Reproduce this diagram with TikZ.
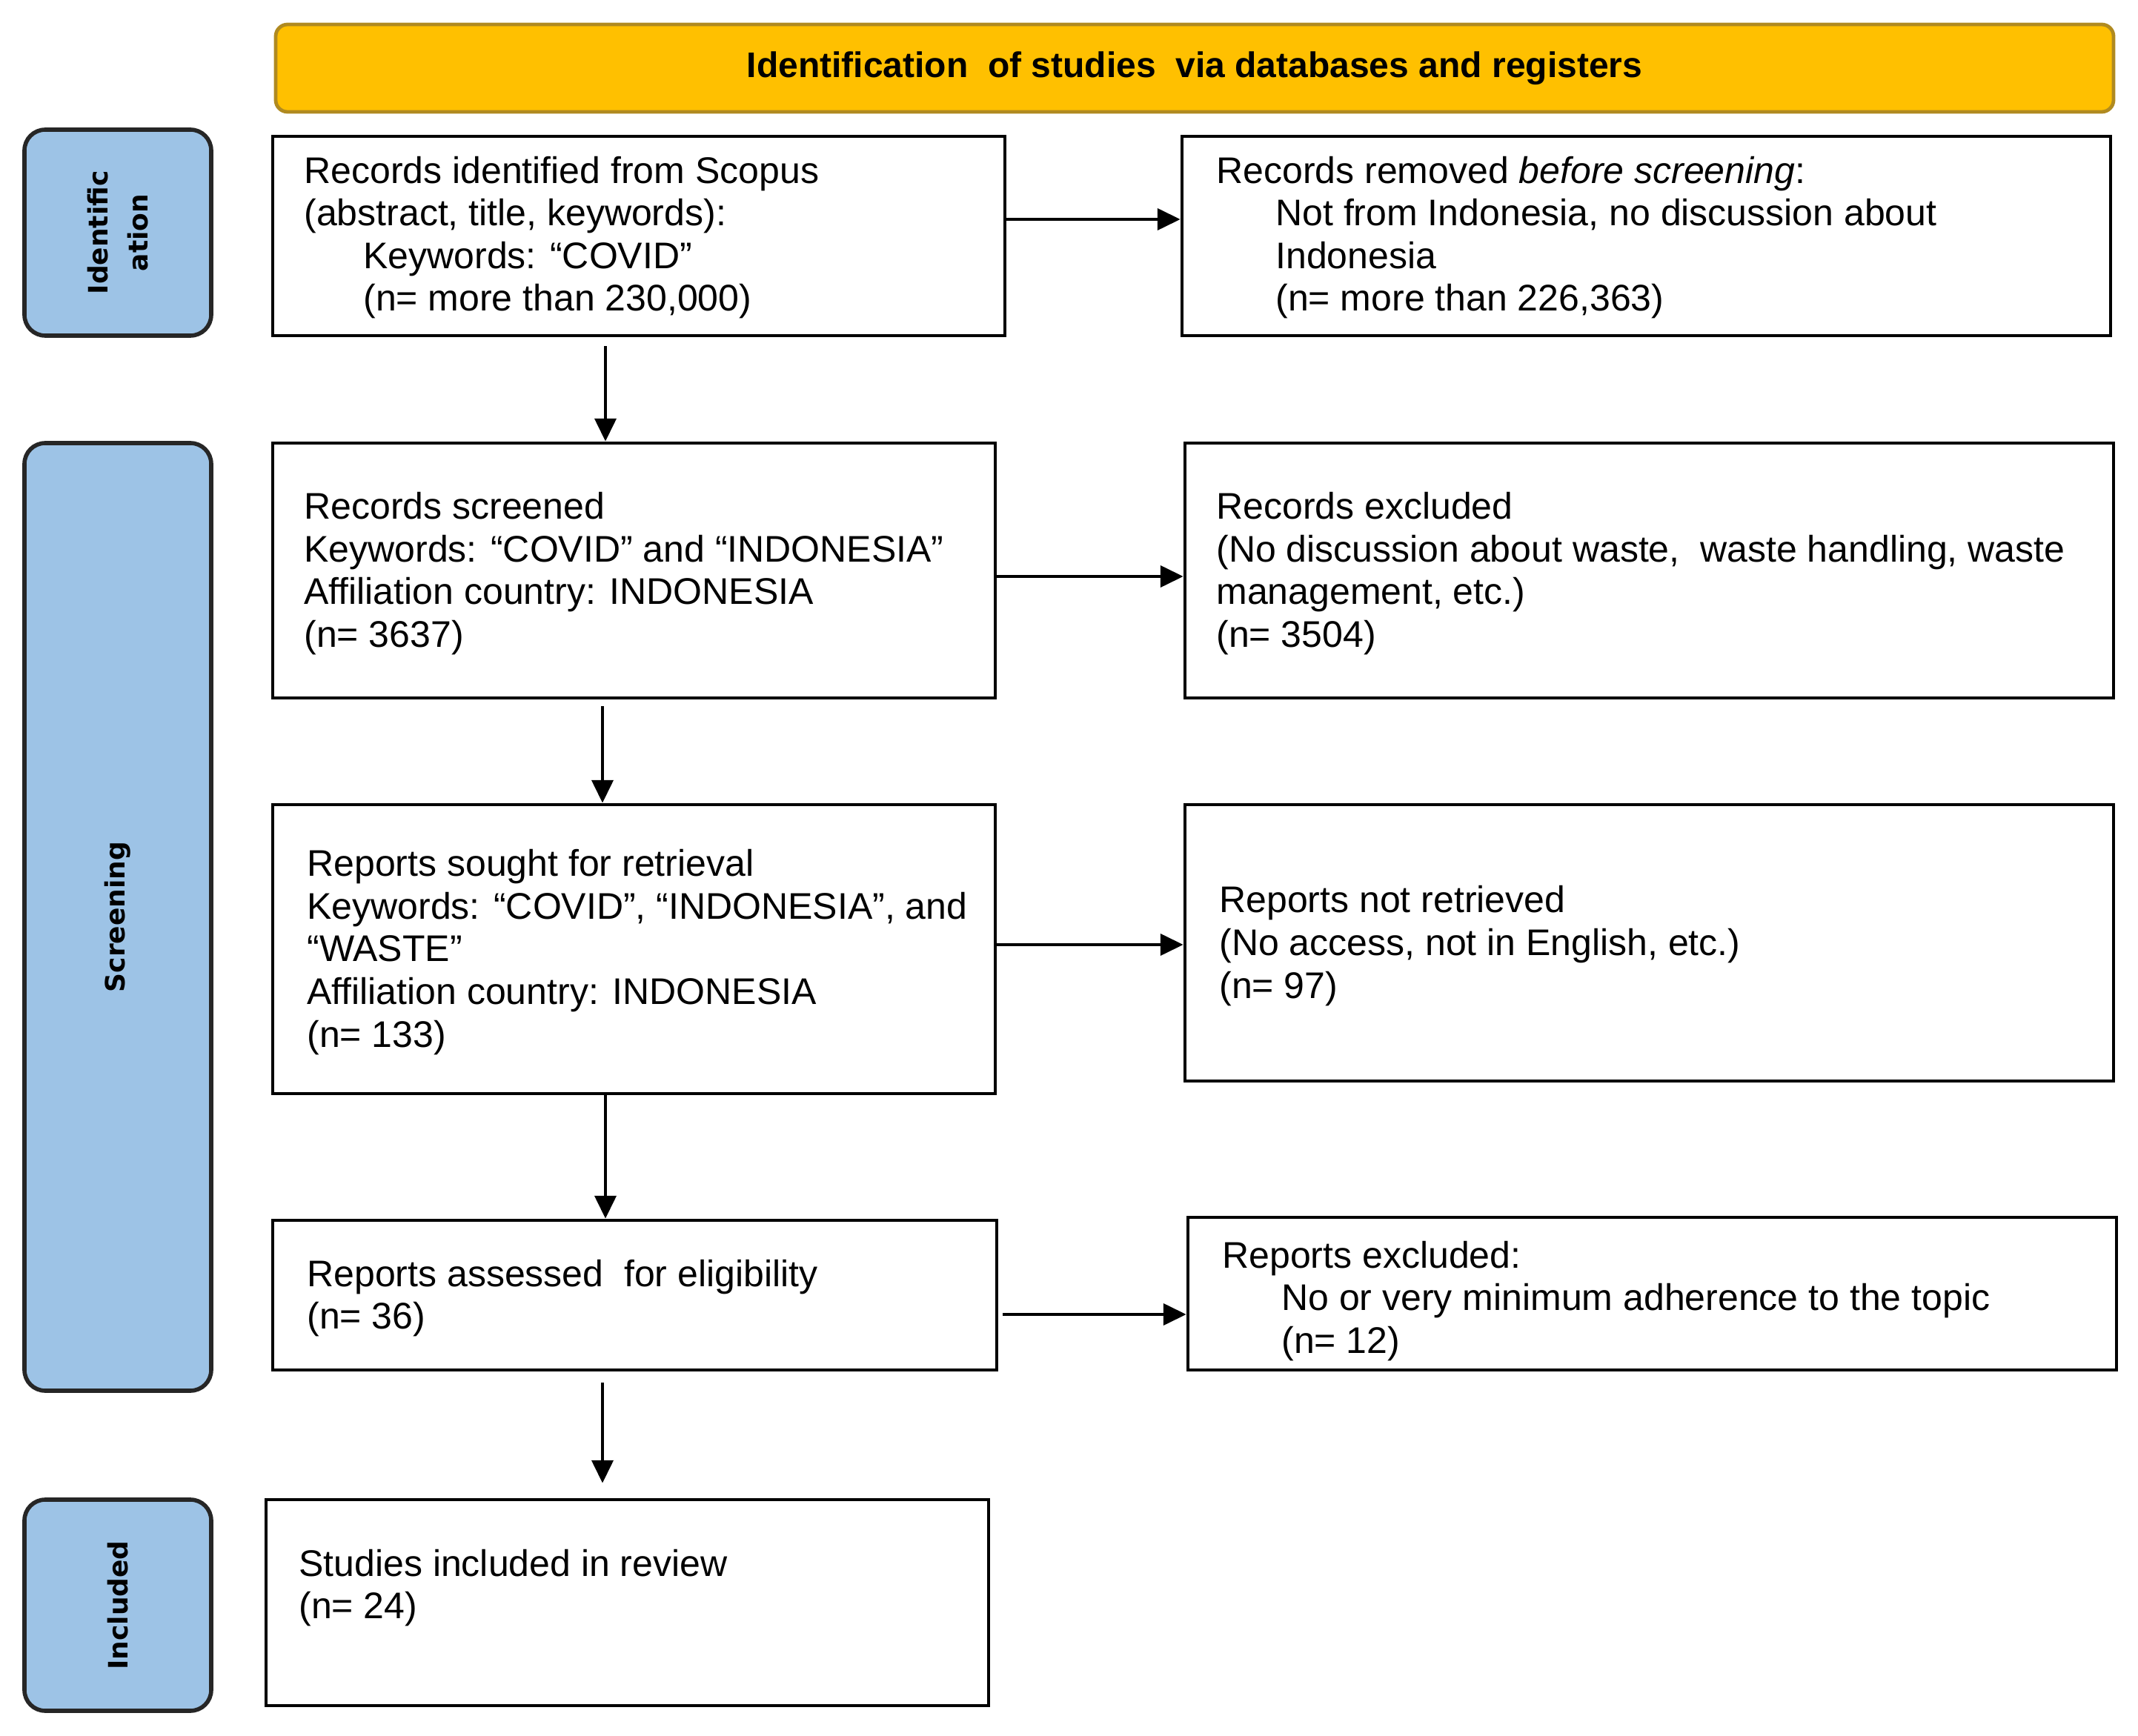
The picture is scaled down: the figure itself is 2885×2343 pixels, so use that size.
\documentclass[tikz,border=0pt]{standalone}
\usepackage{fontspec}
\setmainfont{Liberation Sans}
\newfontfamily\sidefont{DejaVu Sans}
\usetikzlibrary{arrows.meta,calc}
\definecolor{hdrfill}{HTML}{FFC000}
\definecolor{hdrline}{HTML}{B08A20}
\definecolor{sidefill}{HTML}{9DC3E6}
\begin{document}
\begin{tikzpicture}[x=0.25pt,y=-0.25pt,
  hdr/.style={draw=hdrline, line width=1.2pt, fill=hdrfill, rounded corners=4pt, inner sep=0pt,
    font=\bfseries\fontsize{12}{14}\selectfont},
  side/.style={draw=black!85, line width=1.4pt, fill=sidefill, rounded corners=7pt, inner sep=0pt,
    rotate=90, align=center, font=\sidefont\bfseries\fontsize{9}{13.5}\selectfont},
  box/.style={draw=black, line width=1.2pt, fill=white, inner sep=0pt},
  txt/.style={anchor=west, align=left, inner sep=0pt, font=\fontsize{12.5}{14.4}\selectfont},
  arr/.style={-{Triangle[length=7.7pt,width=7.3pt]}, line width=0.85pt}
]
\useasboundingbox (0,0) rectangle (2885,2343);

% header
\node[hdr, minimum width=620pt, minimum height=29.5pt] (hdr) at (1612,92)
  {Identification\ \ of studies\ \ via databases and registers};

% side labels
\node[side, minimum width=69.5pt, minimum height=63pt] (sid) at (159,314) {Identific\\ation};
\node[side, minimum width=319.75pt, minimum height=63pt] (ssc) at (159,1237.5) {Screening};
\node[side, minimum width=71.25pt, minimum height=63pt] (sin) at (159,2166.5) {Included};

% boxes
\node[box, minimum width=247pt, minimum height=67.25pt] (b1) at (862,318.5) {};
\node[box, minimum width=313.25pt, minimum height=67.25pt] (b2) at (2221.5,318.5) {};
\node[box, minimum width=243.75pt, minimum height=86pt] (b3) at (855.5,770) {};
\node[box, minimum width=313.25pt, minimum height=86pt] (b4) at (2225.5,770) {};
\node[box, minimum width=243.75pt, minimum height=97.5pt] (b5) at (855.5,1281) {};
\node[box, minimum width=313.25pt, minimum height=93.25pt] (b6) at (2225.5,1272.5) {};
\node[box, minimum width=244.25pt, minimum height=50.5pt] (b7) at (856.5,1748) {};
\node[box, minimum width=313.25pt, minimum height=51.5pt] (b8) at (2229.5,1746) {};
\node[box, minimum width=243.75pt, minimum height=69.5pt] (b9) at (846.5,2163) {};

% texts
\node[txt] (t1) at ([xshift=11pt,yshift=-0.5pt]b1.west) {Records identified from Scopus\\(abstract, title, keywords):\\\hspace*{20pt}Keywords: “COVID”\\\hspace*{20pt}(n= more than 230,000)};
\node[txt] (t2) at ([xshift=12pt,yshift=-0.5pt]b2.west) {Records removed \textit{before screening}:\\\hspace*{20pt}Not from Indonesia, no discussion about\\\hspace*{20pt}Indonesia\\\hspace*{20pt}(n= more than 226,363)};
\node[txt] (t3) at ([xshift=11pt,yshift=-1pt]b3.west) {Records screened\\Keywords: “COVID” and “INDONESIA”\\Affiliation country: INDONESIA\\(n= 3637)};
\node[txt] (t4) at ([xshift=11pt,yshift=-1pt]b4.west) {Records excluded\\(No discussion about waste,\ \ waste handling, waste\\management, etc.)\\(n= 3504)};
\node[txt] (t5) at ([xshift=12pt,yshift=-1pt]b5.west) {Reports sought for retrieval\\Keywords: “COVID”, “INDONESIA”, and\\“WASTE”\\Affiliation country: INDONESIA\\(n= 133)};
\node[txt] (t6) at ([xshift=12pt,yshift=-1pt]b6.west) {Reports not retrieved\\(No access, not in English, etc.)\\(n= 97)};
\node[txt] (t7) at ([xshift=12pt,yshift=-1pt]b7.west) {Reports assessed\ \ for eligibility\\(n= 36)};
\node[txt] (t8) at ([xshift=12pt,yshift=-2.5pt]b8.west) {Reports excluded:\\\hspace*{20pt}No or very minimum adherence to the topic\\\hspace*{20pt}(n= 12)};
\node[txt] (t9) at ([xshift=11.5pt,yshift=5pt]b9.west) {Studies included in review\\(n= 24)};

% connector guide coordinates
\coordinate (va) at (817,0);
\coordinate (vb) at (813,0);
\coordinate (h1) at (0,296);
\coordinate (h2) at (0,778);
\coordinate (h3) at (0,1275);
\coordinate (h4) at (0,1774);

% vertical arrows
\draw[arr, shorten <=3pt] (b1.south -| va) -- (b3.north -| va);
\draw[arr, shorten <=2.2pt] (b3.south -| vb) -- (b5.north -| vb);
\draw[arr] (b5.south -| va) -- (b7.north -| va);
\draw[arr, shorten <=3.7pt, shorten >=5pt] (b7.south -| vb) -- (b9.north -| vb);

% horizontal arrows
\draw[arr] (b1.east |- h1) -- (b2.west |- h1);
\draw[arr] (b3.east |- h2) -- (b4.west |- h2);
\draw[arr] (b5.east |- h3) -- (b6.west |- h3);
\draw[arr, shorten <=1.5pt] (b7.east |- h4) -- (b8.west |- h4);
\end{tikzpicture}
\end{document}
